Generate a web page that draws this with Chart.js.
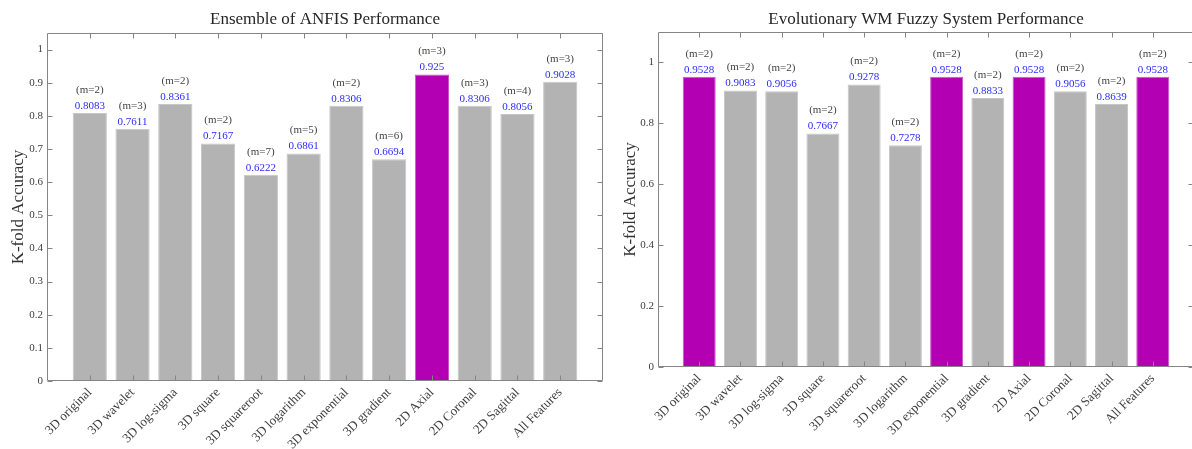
<!DOCTYPE html>
<html><head><meta charset="utf-8">
<script src="https://cdn.jsdelivr.net/npm/chart.js@4.4.1/dist/chart.umd.min.js"></script>
<style>
html,body{margin:0;padding:0;background:#fff;overflow:hidden;width:1192px;height:449px;position:relative;}
#w1{position:absolute;left:0;top:0;width:610px;height:449px;}
#w2{position:absolute;left:600px;top:0;width:600px;height:449px;}
</style></head><body>
<div id="w1"><canvas id="c1"></canvas></div>
<div id="w2"><canvas id="c2"></canvas></div>
<script>
// ---- data ----
const categories = ['3D original','3D wavelet','3D log-sigma','3D square','3D squareroot','3D logarithm','3D exponential','3D gradient','2D Axial','2D Coronal','2D Sagittal','All Features'];
const anfisTitle = 'Ensemble of ANFIS Performance';
const anfisAccuracy = [0.8083,0.7611,0.8361,0.7167,0.6222,0.6861,0.8306,0.6694,0.925,0.8306,0.8056,0.9028];
const anfisM = [2,3,2,2,7,5,2,6,3,3,4,3];
const anfisYTicks = [0,0.1,0.2,0.3,0.4,0.5,0.6,0.7,0.8,0.9,1];
const anfisYMax = 1.05;
const wmTitle = 'Evolutionary WM Fuzzy System Performance';
const wmAccuracy = [0.9528,0.9083,0.9056,0.7667,0.9278,0.7278,0.9528,0.8833,0.9528,0.9056,0.8639,0.9528];
const wmM = [2,2,2,2,2,2,2,2,2,2,2,2];
const wmYTicks = [0,0.2,0.4,0.6,0.8,1];
const wmYMax = 1.1;
const yAxisTitle = 'K-fold Accuracy';

// ---- styles ----
const GRAY = '#b3b3b3', GRAY_EDGE = '#c6c6c6';
const MAG = '#b300b3', MAG_EDGE = '#cc55cc';
const AXIS = '#858585';
const TXT = '#404040';
const SERIF = '"Liberation Serif", "Times New Roman", serif';

const boxPlugin = {
  id: 'matlabBox',
  afterDatasetsDraw(chart, args, opts) {
    const {ctx, chartArea: a, scales: {x, y}} = chart;
    const L = Math.round(a.left) + 0.5, R = Math.round(a.right) - 0.5;
    const T = Math.round(a.top) + 0.5, B = Math.round(a.bottom) - 0.5;
    const len = opts.tickLength;
    ctx.save();
    ctx.strokeStyle = opts.color; ctx.lineWidth = 1;
    ctx.beginPath();
    ctx.rect(L, T, R - L, B - T);
    x.ticks.forEach(t => {
      const px = Math.round(x.getPixelForValue(t.value)) + 0.5;
      ctx.moveTo(px, B); ctx.lineTo(px, B - len);
      ctx.moveTo(px, T); ctx.lineTo(px, T + len);
    });
    y.ticks.forEach(t => {
      const py = Math.round(y.getPixelForValue(t.value)) + 0.5;
      ctx.moveTo(L, py); ctx.lineTo(L + len, py);
      ctx.moveTo(R, py); ctx.lineTo(R - len, py);
    });
    ctx.stroke();
    ctx.restore();
  }
};

const valueLabelPlugin = {
  id: 'valueLabels',
  afterDatasetsDraw(chart, args, opts) {
    const {ctx} = chart;
    const meta = chart.getDatasetMeta(0);
    const ds = chart.data.datasets[0];
    ctx.save();
    ctx.textAlign = 'center'; ctx.textBaseline = 'middle';
    meta.data.forEach((bar, i) => {
      ctx.font = opts.valueFont; ctx.fillStyle = opts.valueColor;
      ctx.fillText(String(ds.data[i].y), bar.x, bar.y - opts.valueGap);
      ctx.font = opts.mFont; ctx.fillStyle = opts.mColor;
      ctx.fillText('(m=' + opts.m[i] + ')', bar.x, bar.y - opts.mGap);
    });
    ctx.restore();
  }
};

const axesTitlePlugin = {
  id: 'axesTitle',
  afterDraw(chart, args, opts) {
    const {ctx, chartArea: a} = chart;
    ctx.save();
    ctx.font = opts.font; ctx.fillStyle = opts.color;
    ctx.textAlign = 'center'; ctx.textBaseline = 'middle';
    ctx.fillText(opts.text, (a.left + a.right) / 2, opts.y);
    ctx.restore();
  }
};

function makeChart(id, cfg) {
  const maxVal = Math.max(...cfg.values);
  return new Chart(document.getElementById(id), {
    type: 'bar',
    data: {
      datasets: [{
        data: cfg.values.map((v, i) => ({x: i + 1, y: v})),
        backgroundColor: cfg.values.map(v => v === maxVal ? MAG : GRAY),
        borderColor: cfg.values.map(v => v === maxVal ? MAG_EDGE : GRAY_EDGE),
        borderWidth: 1,
        barPercentage: 0.8,
        categoryPercentage: 1.0
      }]
    },
    options: {
      responsive: true,
      maintainAspectRatio: false,
      animation: false,
      devicePixelRatio: 1,
      layout: {padding: {left: 0, top: cfg.padTop, right: cfg.padRight, bottom: 0}},
      scales: {
        x: {
          type: 'linear', min: 0, max: categories.length + 1, offset: false,
          afterBuildTicks: s => { s.ticks = categories.map((c, i) => ({value: i + 1})); },
          afterFit: s => { s.height = cfg.xHeight; },
          grid: {display: false, drawTicks: false, offset: false}, border: {display: false},
          ticks: {
            autoSkip: false, minRotation: 45, maxRotation: 45, padding: 4,
            color: TXT, font: {family: SERIF, size: 13},
            callback: v => categories[v - 1]
          }
        },
        y: {
          type: 'linear', min: 0, max: cfg.yMax,
          afterBuildTicks: s => { s.ticks = cfg.yTicks.map(v => ({value: v})); },
          afterFit: s => { s.width = cfg.yWidth; },
          grid: {display: false, drawTicks: false}, border: {display: false},
          ticks: {padding: 4, color: TXT, font: {family: SERIF, size: 11}, callback: v => String(v)},
          title: {display: true, text: yAxisTitle, color: '#333', font: {family: SERIF, size: 17}, padding: {top: cfg.yTitlePad, bottom: 0}}
        }
      },
      plugins: {
        legend: {display: false},
        tooltip: {enabled: false},
        matlabBox: {color: AXIS, tickLength: 5},
        valueLabels: {m: cfg.m, valueFont: '11px ' + SERIF, valueColor: '#2b2bff', valueGap: 7,
                      mFont: '11px ' + SERIF, mColor: '#444', mGap: 23},
        axesTitle: {text: cfg.title, font: '17px ' + SERIF, color: '#262626', y: 20}
      }
    },
    plugins: [boxPlugin, valueLabelPlugin, axesTitlePlugin]
  });
}

makeChart('c1', {title: anfisTitle, values: anfisAccuracy, m: anfisM, yTicks: anfisYTicks, yMax: anfisYMax,
  padTop: 33, padRight: 7, yWidth: 47, xHeight: 68, yTitlePad: 8});
makeChart('c2', {title: wmTitle, values: wmAccuracy, m: wmM, yTicks: wmYTicks, yMax: wmYMax,
  padTop: 32, padRight: 6, yWidth: 58, xHeight: 82, yTitlePad: 20});
</script>
</body></html>
